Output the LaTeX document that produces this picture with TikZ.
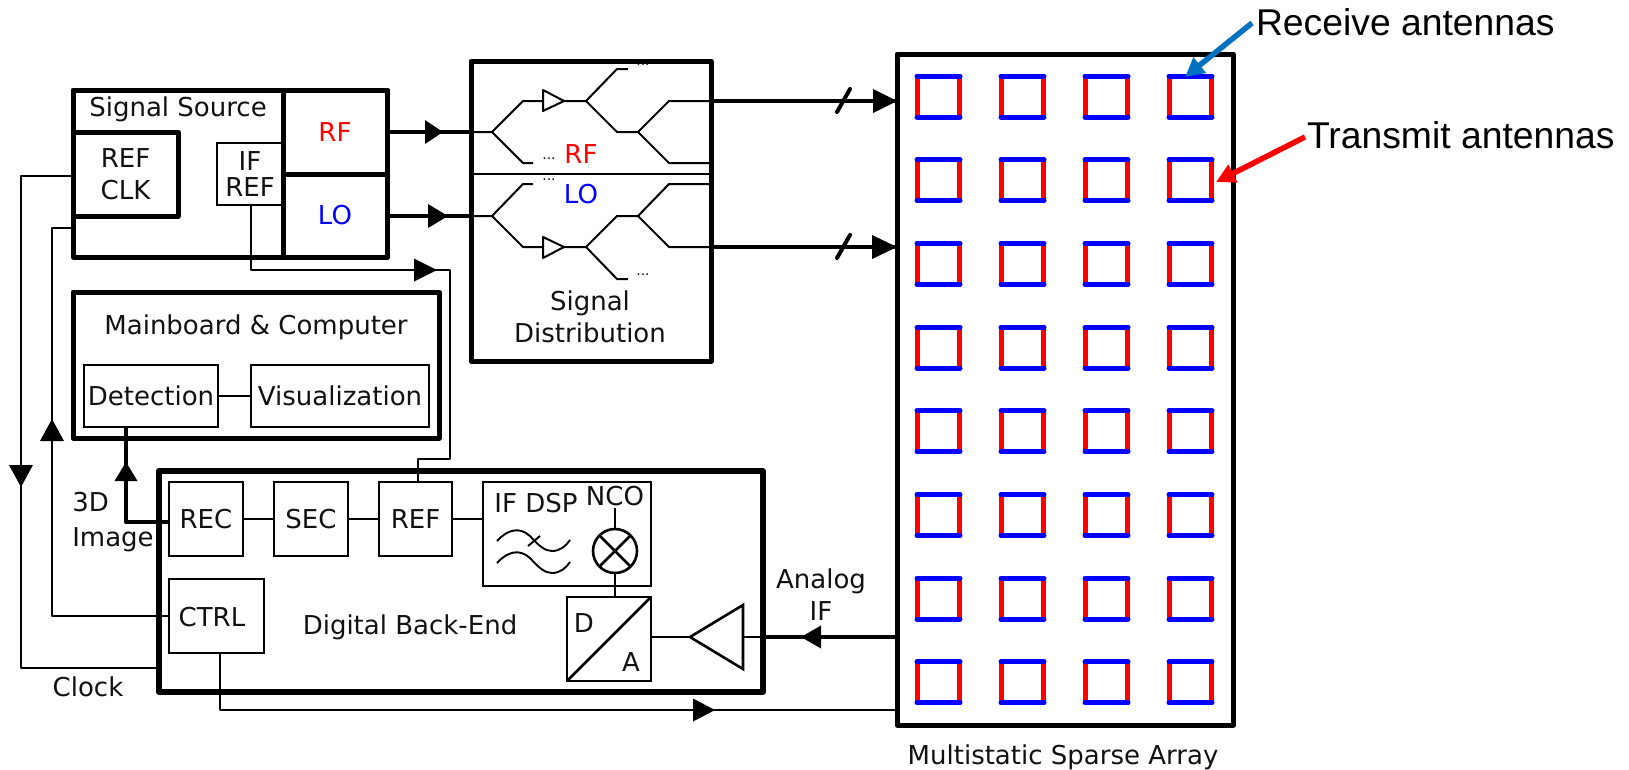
\documentclass[tikz,border=0pt]{standalone}
\usepackage{fontspec}
\setmainfont{DejaVu Sans}
\newfontfamily\arialfont{Liberation Sans}
\usetikzlibrary{arrows.meta}
\definecolor{txt}{HTML}{111111}
\definecolor{rfc}{HTML}{FF0000}
\definecolor{loc}{HTML}{0000FF}
\definecolor{rxarrow}{HTML}{0070C0}
\tikzset{
  lbl/.style={inner sep=0pt,outer sep=0pt,text=txt,font=\fontsize{26}{32}\selectfont,align=center},
  thickbox/.style={draw=black,line width=5pt,line join=round,inner sep=0pt,outer sep=0pt,text=txt,font=\fontsize{26}{32}\selectfont,align=center},
  thinbox/.style={draw=black,line width=2.8pt,inner sep=0pt,outer sep=0pt,text=txt,font=\fontsize{26}{32}\selectfont,align=center},
  bus/.style={line width=4.6pt,draw=black,line join=round},
  wire/.style={line width=1.9pt,draw=black,line join=round},
  midwire/.style={line width=2.6pt,draw=black},
  tree/.style={line width=2pt,draw=black,line join=round},
  dots/.style={inner sep=0pt,outer sep=0pt,font=\fontsize{14}{14}\selectfont,text=txt},
  callout/.style={inner sep=0pt,outer sep=0pt,font=\arialfont\fontsize{37.3}{40}\selectfont,text=black},
  slashmark/.style={line width=4pt,line cap=round,draw=black},
  headfill/.style={draw=none,fill=black}
}
% filled arrowhead: tip point, direction point (base centre), half width
\newcommand{\headat}[3]{\fill[headfill] (#1) -- ($(#2)!#3pt!90:(#1)$) -- ($(#2)!#3pt!-90:(#1)$) -- cycle;}
\usetikzlibrary{calc}
\begin{document}
\begin{tikzpicture}[x=1pt,y=-1pt]
\useasboundingbox (0,0) rectangle (1629,769);
% ---- Signal source
\node[thickbox,minimum width=314pt,minimum height=167pt] (src) at (230,173.5) {};
\node[lbl] (srctitle) at (178,109) {Signal Source};
\node[thickbox,minimum width=105pt,minimum height=84pt] (refclk) at (125.5,174) {REF\\CLK};
\node[thickbox,minimum width=104pt,minimum height=84pt,text=rfc] (rf) at (335,132) {RF};
\node[thickbox,minimum width=104pt,minimum height=83pt,text=loc] (lo) at (335,215.5) {LO};
\node[draw=black,line width=1.9pt,inner sep=0pt,outer sep=0pt,text=txt,font=\fontsize{26}{26}\selectfont,align=center,minimum width=66pt,minimum height=62pt] (ifref) at (250,174) {IF\\REF};
% ---- Signal distribution
\node[thickbox,minimum width=240pt,minimum height=300pt] (dist) at (591,211) {};
\coordinate (dl) at (471,174);\coordinate (dr) at (711,174);
\draw[line width=2.6pt] (dl) -- (dr);
\node[lbl] (distlbl) at (590,317) {Signal\\Distribution};
\node[lbl,text=rfc] (rflbl) at (581,154) {RF};
\node[lbl,text=loc] (lolbl) at (581,194) {LO};
% RF tree
\coordinate (ra) at (492,132);\coordinate (rb) at (523,101);\coordinate (rc) at (543,101);
\coordinate (rd) at (564,101);\coordinate (re) at (586,101);\coordinate (rf1) at (617,69);\coordinate (rf2) at (628,69);
\coordinate (rg) at (617,132);\coordinate (rh) at (638,132);\coordinate (ri) at (669,101);\coordinate (rj) at (711,101);
\coordinate (rk) at (669,163);\coordinate (rl) at (711,163);\coordinate (rm) at (523,163);\coordinate (rn) at (533,163);
\coordinate (rin) at (471,132);
\node[dots] (rdots1) at (643,65) {...};
\node[dots] (rdots2) at (549,159) {...};
\draw[tree] (rin) -- (ra) -- (rb) -- (rc);
\draw[tree] (ra) -- (rm) -- (rn);
\draw[tree] (rc) -- (543,90) -- (rd) -- (543,111) -- cycle;
\draw[tree] (rd) -- (re) -- (rf1) -- (rf2);
\draw[tree] (re) -- (rg) -- (rh) -- (ri) -- (rj);
\draw[tree] (rh) -- (rk) -- (rl);
% LO tree
\coordinate (la) at (492,216);\coordinate (lb) at (523,247);\coordinate (lc) at (543,247);
\coordinate (ld) at (564,247);\coordinate (le) at (586,247);\coordinate (lf1) at (617,279);\coordinate (lf2) at (628,279);
\coordinate (lg) at (617,216);\coordinate (lh) at (638,216);\coordinate (li) at (669,247);\coordinate (lj) at (711,247);
\coordinate (lk) at (669,184);\coordinate (ll) at (711,184);\coordinate (lm) at (523,184);\coordinate (ln) at (533,184);
\coordinate (lin) at (471,216);
\node[dots] (ldots1) at (643,275) {...};
\node[dots] (ldots2) at (549,180) {...};
\draw[tree] (lin) -- (la) -- (lb) -- (lc);
\draw[tree] (la) -- (lm) -- (ln);
\draw[tree] (lc) -- (543,237) -- (ld) -- (543,258) -- cycle;
\draw[tree] (ld) -- (le) -- (lf1) -- (lf2);
\draw[tree] (le) -- (lg) -- (lh) -- (li) -- (lj);
\draw[tree] (lh) -- (lk) -- (ll);
% ---- Array
\node[thickbox,minimum width=336pt,minimum height=671pt] (array) at (1065,389.5) {};
\node[lbl] (arraylbl) at (1063,757) {Multistatic Sparse Array};
\foreach \cx in {938.5,1022.5,1106.5,1190.5}{
  \foreach \ty in {76,159.7,243.4,327.1,410.8,494.5,578.2,661.9}{
    \draw[line width=5pt,draw=rfc] (\cx-21,\ty) -- (\cx-21,\ty+41);
    \draw[line width=5pt,draw=rfc] (\cx+21,\ty) -- (\cx+21,\ty+41);
    \draw[line width=5pt,draw=loc,line cap=round] (\cx-21.5,\ty) -- (\cx+21.5,\ty);
    \draw[line width=5pt,draw=loc,line cap=round] (\cx-21.5,\ty+41) -- (\cx+21.5,\ty+41);
  }
}
% ---- Buses from source to distribution and array
\coordinate (rftip) at (443,132);\coordinate (rfbase) at (425,132);
\coordinate (lotip) at (448,216);\coordinate (lobase) at (428,216);
\draw[bus] (rf.east) -- (rin);
\headat{rftip}{rfbase}{12}
\draw[bus] (lo.east|-lin) -- (lin);
\headat{lotip}{lobase}{12}
\coordinate (arr1) at (897,101);\coordinate (arr1b) at (873,101);
\coordinate (arr2) at (897,247);\coordinate (arr2b) at (872,247);
\draw[bus] (rj) -- (arr1);
\headat{arr1}{arr1b}{12}
\draw[bus] (lj) -- (arr2);
\headat{arr2}{arr2b}{12}
\coordinate (s1a) at (837,112);\coordinate (s1b) at (850,89);
\coordinate (s2a) at (837,258);\coordinate (s2b) at (850,235);
\draw[slashmark] (s1a) -- (s1b);
\draw[slashmark] (s2a) -- (s2b);
% IF REF to REF
\coordinate (if1) at (251,270);\coordinate (iftip) at (437,270);\coordinate (ifbase) at (414,270);\coordinate (if2) at (450,270);\coordinate (if3) at (450,459);\coordinate (if4) at (418,459);
% ---- Mainboard
\node[thickbox,minimum width=366pt,minimum height=146pt] (main) at (256,365) {};
\node[lbl] (maintitle) at (256,327) {Mainboard \& Computer};
\node[thinbox,minimum width=134pt,minimum height=62pt] (detect) at (151,396) {Detection};
\node[thinbox,minimum width=178pt,minimum height=62pt] (visual) at (340,396) {Visualization};
\draw[midwire] (detect) -- (visual);
% ---- Digital back-end
\node[draw=black,line width=5.6pt,line join=round,inner sep=0pt,outer sep=0pt,minimum width=604pt,minimum height=221pt] (dbe) at (461,581.5) {};
\node[thinbox,minimum width=74pt,minimum height=74pt] (rec) at (206,519) {REC};
\node[thinbox,minimum width=74pt,minimum height=74pt] (sec) at (311,519) {SEC};
\node[thinbox,minimum width=73pt,minimum height=74pt] (refb) at (415.5,519) {REF};
\node[thinbox,minimum width=168pt,minimum height=104pt] (ifdsp) at (567,534) {};
\node[lbl] (ifdsplbl) at (536,503) {IF DSP};
\node[lbl] (nco) at (615,496) {NCO};
\node[thinbox,minimum width=95pt,minimum height=74pt] (ctrl) at (216.5,616) {};
\node[lbl] (ctrllbl) at (212,617) {CTRL};
\node[lbl] (dbelbl) at (410,627) {Digital Back-End};
\draw[midwire] (rec) -- (sec);
\draw[midwire] (sec) -- (refb);
\draw[midwire] (refb.east) -- (refb.east-|ifdsp.west);
% mixer
\node[draw=black,line width=2.6pt,circle,minimum size=44pt,inner sep=0pt,outer sep=0pt] (mix) at (615,551) {};
\draw[midwire] (mix.45) -- (mix.225);
\draw[midwire] (mix.135) -- (mix.315);
\coordinate (ncofoot) at (615,508);
\draw[midwire] (ncofoot) -- (mix.north);
% filter
\draw[wire] (497,541) .. controls (507,530) and (519,526) .. (530,536) .. controls (539,546) and (545,551) .. (552,551) .. controls (560,551) and (566,546) .. (570,540);
\draw[wire] (497,563) .. controls (507,552) and (519,548) .. (530,558) .. controls (539,568) and (545,573) .. (552,573) .. controls (560,573) and (566,568) .. (570,562);
\draw[wire] (528,546) -- (540,536);
% DA
\node[thinbox,minimum width=84pt,minimum height=84pt] (da) at (609,639) {};
\draw[midwire] (da.south west) -- (da.north east);
\node[lbl] (dlbl) at (584,623) {D};
\node[lbl] (albl) at (631,662) {A};
\draw[midwire] (mix.south) -- (mix.south|-da.north);
% amp
\coordinate (amptip) at (690,637);\coordinate (amptop) at (743,605);\coordinate (ampbot) at (743,669);\coordinate (ampback) at (743,637);
\draw[midwire,line join=miter] (amptip) -- (amptop) -- (ampbot) -- cycle;
\draw[wire] (da.east|-amptip) -- (amptip);
\draw[wire,line width=1.2pt] (ampback) -- (ampback-|dbe.east);
% ---- Connectors
\draw[wire] (ifref.south-|if1) -- (if1) -- (if2) -- (if3) -- (if4) -- (refb.north-|if4);
\headat{iftip}{ifbase}{11.5}
\coordinate (img1) at (126,522);\coordinate (imgtip) at (126,462);\coordinate (imgbase) at (126,481);
\draw[bus] (rec.west|-img1) -- (img1) -- (img1|-detect.south);
\headat{imgtip}{imgbase}{11.5}
\node[lbl,align=left,font=\fontsize{26}{34.5}\selectfont] (img3d) at (113,522) {3D\\Image};
% ctrl to source
\coordinate (c1) at (52,616);\coordinate (ctip) at (52,419);\coordinate (cbase) at (52,441);\coordinate (c2) at (52,228);\coordinate (c3) at (73,228);
\draw[wire] (ctrl.west) -- (c1) -- (c2) -- (c3);
\headat{ctip}{cbase}{12}
% clock
\coordinate (k0) at (159,668);\coordinate (k1) at (21,668);\coordinate (ktip) at (21,487);\coordinate (kbase) at (21,465);\coordinate (k2) at (21,176);\coordinate (k3) at (73,176);
\draw[wire] (k0) -- (k1) -- (k2) -- (k3);
\headat{ktip}{kbase}{12}
\node[lbl] (clock) at (88,687) {Clock};
% ctrl to array
\coordinate (t1) at (220,710);\coordinate (ttip) at (715,710);\coordinate (tbase) at (693,710);\coordinate (t2) at (897,710);
\draw[wire] (ctrl.south-|t1) -- (t1) -- (t2);
\headat{ttip}{tbase}{11.5}
% analog IF
\coordinate (a1) at (897,637);\coordinate (atip) at (801,637);\coordinate (abase) at (821,637);\coordinate (a2) at (763,637);
\draw[bus] (a1) -- (a2);
\headat{atip}{abase}{11.5}
\node[lbl] (analog) at (821,595) {Analog\\IF};
% callouts
\node[callout,anchor=west] (rxlbl) at (1256,22) {Receive antennas};
\node[callout,anchor=west] (txlbl) at (1307,135) {Transmit antennas};
\coordinate (rxs) at (1252,23);\coordinate (rxt) at (1185,77);
\coordinate (txs) at (1305,137);\coordinate (txt) at (1216,182);
\draw[line width=5.5pt,draw=rxarrow,-{Triangle[length=19pt,width=19pt]}] (rxs) -- (rxt);
\draw[line width=5.5pt,draw=rfc,-{Triangle[length=19pt,width=19pt]}] (txs) -- (txt);
\end{tikzpicture}
\end{document}
